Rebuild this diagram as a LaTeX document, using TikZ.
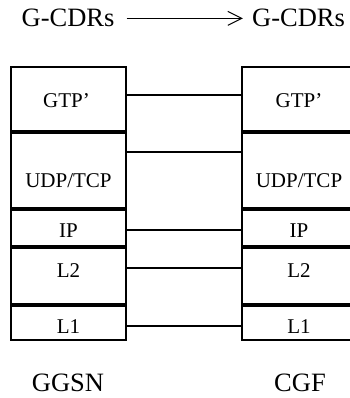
\documentclass[tikz,border=0pt]{standalone}
\usepackage{fontspec}
\setmainfont{Liberation Serif}
\usetikzlibrary{positioning,arrows.meta}

\begin{document}
\begin{tikzpicture}[x=1pt,y=-1pt]
	\tikzstyle{layer}=[rectangle,draw,line width=2.2pt,outer sep=0pt,inner sep=0pt]
	\tikzstyle{sep}=[line width=4pt]
	\tikzstyle{small}=[font=\fontsize{21}{25}\selectfont,inner sep=0pt,anchor=base]
	\tikzstyle{big}=[font=\fontsize{26.5}{30}\selectfont,inner sep=0pt,anchor=base]
	\tikzstyle{link}=[line width=1.3pt]
	\useasboundingbox (0,0) rectangle (349,398);
	% titles
		\node[big] (cdrL) at (68,27) {G-CDRs};
		\node[big] (cdrR) at (298.5,27) {G-CDRs};
			\draw[-{Straight Barb[length=14pt,width=14pt]},line width=1pt,shorten <=12pt,shorten >=9pt] (cdrL.east) -- (cdrR.west);
	% GGSN stack
		\node[layer, minimum width=115pt, minimum height=65pt, anchor=north west] (gtpL) at (11,67) {};
		\node[layer, minimum width=115pt, minimum height=77pt, below=0pt of gtpL] (udpL) {};
		\node[layer, minimum width=115pt, minimum height=38pt, below=0pt of udpL] (ipL) {};
		\node[layer, minimum width=115pt, minimum height=58pt, below=0pt of ipL] (ltwoL) {};
		\node[layer, minimum width=115pt, minimum height=35pt, below=0pt of ltwoL] (loneL) {};
			\draw[sep] (gtpL.south west) -- (gtpL.south east);
			\draw[sep] (udpL.south west) -- (udpL.south east);
			\draw[sep] (ipL.south west) -- (ipL.south east);
			\draw[sep] (ltwoL.south west) -- (ltwoL.south east);
		\node[small] (gtpLt) at ([xshift=-2pt,yshift=-41pt]gtpL.north) {GTP'};
		\node[small] (udpLt) at ([yshift=-55pt]udpL.north) {UDP/TCP};
		\node[small] (ipLt) at ([yshift=-28pt]ipL.north) {IP};
		\node[small] (ltwoLt) at ([yshift=-30pt]ltwoL.north) {L2};
		\node[small] (loneLt) at ([yshift=-28pt]loneL.north) {L1};
	% CGF stack
		\node[layer, minimum width=112pt, minimum height=65pt, anchor=north west] (gtpR) at (242,67) {};
		\node[layer, minimum width=112pt, minimum height=77pt, below=0pt of gtpR] (udpR) {};
		\node[layer, minimum width=112pt, minimum height=38pt, below=0pt of udpR] (ipR) {};
		\node[layer, minimum width=112pt, minimum height=58pt, below=0pt of ipR] (ltwoR) {};
		\node[layer, minimum width=112pt, minimum height=35pt, below=0pt of ltwoR] (loneR) {};
			\draw[sep] (gtpR.south west) -- (gtpR.south east);
			\draw[sep] (udpR.south west) -- (udpR.south east);
			\draw[sep] (ipR.south west) -- (ipR.south east);
			\draw[sep] (ltwoR.south west) -- (ltwoR.south east);
		\node[small] (gtpRt) at ([xshift=1pt,yshift=-41pt]gtpR.north) {GTP'};
		\node[small] (udpRt) at ([xshift=1pt,yshift=-55pt]udpR.north) {UDP/TCP};
		\node[small] (ipRt) at ([xshift=1pt,yshift=-28pt]ipR.north) {IP};
		\node[small] (ltwoRt) at ([xshift=1pt,yshift=-30pt]ltwoR.north) {L2};
		\node[small] (loneRt) at ([xshift=1pt,yshift=-28pt]loneR.north) {L1};
	% peer links
		\draw[link] ([yshift=-28pt]gtpL.north east) -- ([yshift=-28pt]gtpR.north west);
		\draw[link] ([yshift=-20pt]udpL.north east) -- ([yshift=-20pt]udpR.north west);
		\draw[link] ([yshift=-21pt]ipL.north east) -- ([yshift=-21pt]ipR.north west);
		\draw[link] ([yshift=-21pt]ltwoL.north east) -- ([yshift=-21pt]ltwoR.north west);
		\draw[link] ([yshift=-21pt]loneL.north east) -- ([yshift=-21pt]loneR.north west);
	% node names
		\node[big] (ggsn) at (68,391) {GGSN};
		\node[big] (cgf) at (300,391) {CGF};
\end{tikzpicture}
\end{document}
